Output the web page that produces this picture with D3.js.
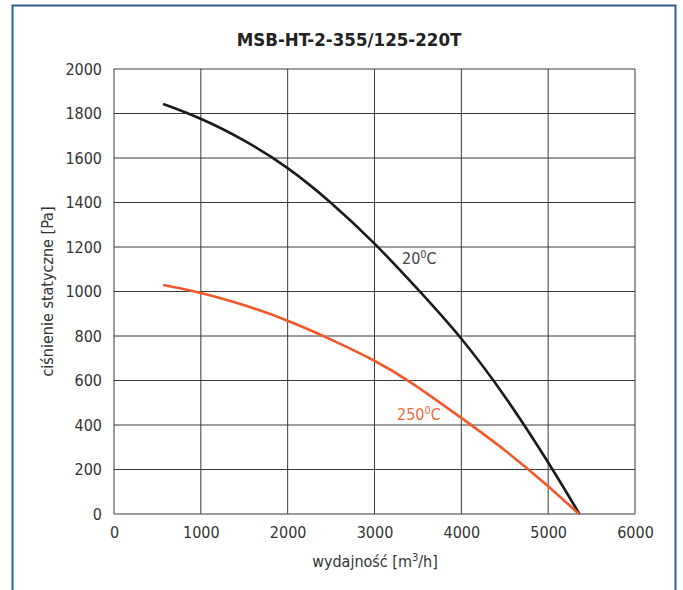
<!DOCTYPE html>
<html>
<head>
<meta charset="utf-8">
<script src="https://cdn.jsdelivr.net/npm/d3@7"></script>
<style>
  body { margin: 0; background: #fff; }
  svg { display: block; font-family: "DejaVu Sans Condensed", "DejaVu Sans", sans-serif; font-stretch: condensed; }
</style>
</head>
<body>
<svg id="chart" width="683" height="590"></svg>
<script>
const title = "MSB-HT-2-355/125-220T";
const xTicks = [0, 1000, 2000, 3000, 4000, 5000, 6000];
const yTicks = [0, 200, 400, 600, 800, 1000, 1200, 1400, 1600, 1800, 2000];

// 20°C curve
const flow20 = [565, 1000, 1500, 2000, 2500, 3000, 3500, 4000, 4500, 5000, 5360];
const press20 = [1843, 1780, 1682, 1561, 1402, 1220, 1010, 795, 535, 235, 0];

// 250°C curve
const flow250 = [565, 1000, 1500, 2000, 2500, 3000, 3400, 4000, 4500, 5000, 5355];
const press250 = [1029, 996, 940, 872, 785, 692, 600, 432, 290, 127, 0];

const width = 683, height = 590;
const margin = {top: 69, right: 48, bottom: 76, left: 114};

const svg = d3.select("#chart");

const x = d3.scaleLinear([0, 6000], [margin.left, width - margin.right]);
const y = d3.scaleLinear([0, 2000], [height - margin.bottom, margin.top]);

// blue frame
svg.append("rect")
    .attr("x", 12.5).attr("y", 5.5)
    .attr("width", 663).attr("height", 600)
    .attr("fill", "none")
    .attr("stroke", "#2c5f95")
    .attr("stroke-width", 2);

svg.append("text")
    .attr("x", 349).attr("y", 46)
    .attr("text-anchor", "middle")
    .attr("font-size", 18.5)
    .attr("font-weight", "bold")
    .attr("fill", "#222")
    .text(title);

// grid
const grid = svg.append("g").attr("stroke", "#3a3a3a").attr("stroke-width", 1);
grid.selectAll("line.v")
  .data(xTicks)
  .join("line")
    .attr("class", "v")
    .attr("x1", d => x(d)).attr("x2", d => x(d))
    .attr("y1", y(0)).attr("y2", y(2000));
grid.selectAll("line.h")
  .data(yTicks)
  .join("line")
    .attr("class", "h")
    .attr("x1", x(0)).attr("x2", x(6000))
    .attr("y1", d => y(d)).attr("y2", d => y(d));

// axes
const xAxis = g => g
  .attr("transform", `translate(0,${y(0)})`)
  .call(d3.axisBottom(x).tickValues(xTicks).tickSize(0).tickPadding(13).tickFormat(d3.format("d")))
  .call(g => g.select(".domain").remove())
  .call(g => g.selectAll("text").attr("font-size", 16).attr("fill", "#333"));

const yAxis = g => g
  .attr("transform", `translate(${x(0)},0)`)
  .call(d3.axisLeft(y).tickValues(yTicks).tickSize(0).tickPadding(12).tickFormat(d3.format("d")))
  .call(g => g.select(".domain").remove())
  .call(g => g.selectAll("text").attr("font-size", 16).attr("fill", "#333"));

svg.append("g").call(xAxis).attr("font-family", null);
svg.append("g").call(yAxis).attr("font-family", null);

// axis titles
const xt = svg.append("text")
    .attr("x", 375).attr("y", 567)
    .attr("text-anchor", "middle")
    .attr("font-size", 16)
    .attr("fill", "#333");
xt.append("tspan").text("wydajność [m");
xt.append("tspan").attr("dy", -6).attr("font-size", 11).text("3");
xt.append("tspan").attr("dy", 6).text("/h]");

svg.append("text")
    .attr("transform", `translate(53,${(y(0) + y(2000)) / 2}) rotate(-90)`)
    .attr("text-anchor", "middle")
    .attr("font-size", 16)
    .attr("fill", "#333")
    .text("ciśnienie statyczne [Pa]");

// curves
const line = d3.line()
    .x(d => x(d[0]))
    .y(d => y(d[1]))
    .curve(d3.curveBasis);

svg.append("path")
    .datum(d3.zip(flow20, press20))
    .attr("fill", "none")
    .attr("stroke", "#1a1a1a")
    .attr("stroke-width", 2.6)
    .attr("d", line);

svg.append("path")
    .datum(d3.zip(flow250, press250))
    .attr("fill", "none")
    .attr("stroke", "#f2592a")
    .attr("stroke-width", 2.6)
    .attr("d", line);

// curve labels
const lab = (tx, ty, t, color) => {
  const el = svg.append("text")
      .attr("x", tx).attr("y", ty)
      .attr("font-size", 16)
      .attr("fill", color);
  el.append("tspan").text(t);
  el.append("tspan").attr("dy", -6).attr("font-size", 11).text("0");
  el.append("tspan").attr("dy", 6).text("C");
};
lab(402, 264, "20", "#444");
lab(397, 420, "250", "#f26a3c");
</script>
</body>
</html>
